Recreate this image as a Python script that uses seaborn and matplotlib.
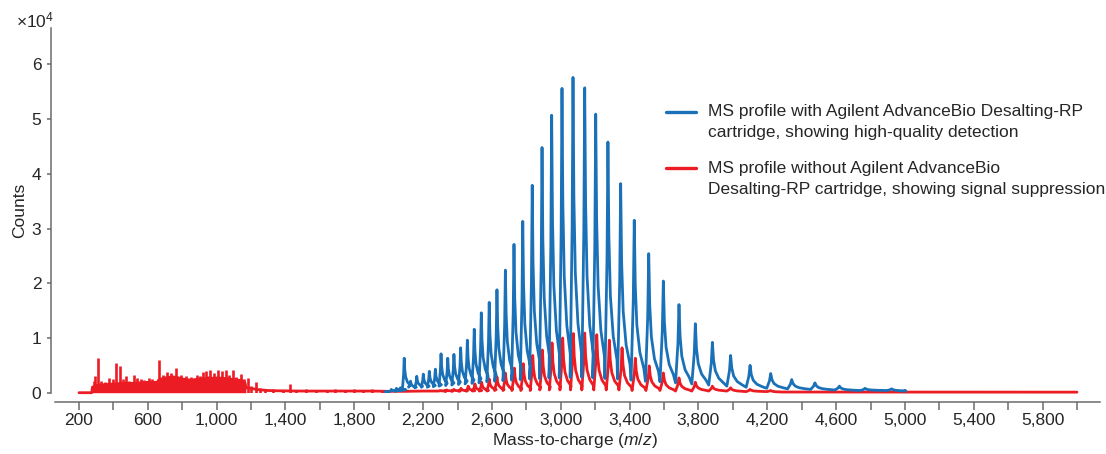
import numpy as np
import pandas as pd
import seaborn as sns
import matplotlib.pyplot as plt
from matplotlib.ticker import FixedLocator, FuncFormatter

# counts are in units of 1e4

# blue: with AdvanceBio Desalting-RP cartridge (charge-state envelope)
blue_mz = [2015, 2045, 2068, 2090, 2127, 2163, 2201, 2236, 2271, 2304, 2343, 2379,
           2418, 2457, 2497, 2538, 2584, 2629, 2678, 2728, 2779, 2834, 2891, 2947,
           3007, 3071, 3139, 3203, 3274, 3348, 3427, 3511, 3596, 3687, 3782, 3881,
           3987, 4100, 4220, 4342, 4477, 4619, 4768, 4923]
blue_top = [0.06, 0.08, 0.09, 0.63, 0.21, 0.30, 0.34, 0.39, 0.43, 0.71, 0.63, 0.70,
            0.82, 0.96, 1.16, 1.46, 1.65, 1.88, 2.24, 2.71, 3.13, 3.79, 4.48, 5.07,
            5.56, 5.76, 5.57, 5.09, 4.58, 3.82, 3.15, 2.54, 2.04, 1.61, 1.26, 0.92,
            0.68, 0.50, 0.35, 0.24, 0.18, 0.12, 0.08, 0.07]
blue_base = [0.02, 0.03, 0.04, 0.05, 0.10, 0.09, 0.10, 0.10, 0.11, 0.12, 0.13, 0.14,
             0.15, 0.16, 0.17, 0.18, 0.20, 0.21, 0.22, 0.23, 0.24, 0.25, 0.26, 0.27,
             0.27, 0.28, 0.28, 0.27, 0.26, 0.25, 0.23, 0.21, 0.20, 0.18, 0.16, 0.14,
             0.12, 0.10, 0.08, 0.07, 0.06, 0.05, 0.04, 0.04]
blue_start = (1978, 0.02)
blue_end = (4998, 0.03)

# red: without cartridge, charge-state envelope
red_mz = [2300, 2337, 2379, 2420, 2462, 2501, 2540, 2584, 2629, 2678, 2730, 2782,
          2837, 2893, 2949, 3011, 3073, 3139, 3209, 3282, 3356, 3433, 3514, 3596,
          3687, 3782, 3881, 3987, 4100, 4220]
red_top = [0.04, 0.05, 0.06, 0.08, 0.12, 0.16, 0.19, 0.25, 0.29, 0.36, 0.45, 0.53,
           0.68, 0.78, 0.91, 1.00, 1.08, 1.09, 1.06, 0.96, 0.82, 0.63, 0.49, 0.36,
           0.27, 0.19, 0.12, 0.09, 0.06, 0.04]
red_base = [0.03, 0.03, 0.03, 0.03, 0.03, 0.03, 0.03, 0.03, 0.04, 0.04, 0.04, 0.04,
            0.04, 0.05, 0.05, 0.05, 0.05, 0.05, 0.05, 0.05, 0.05, 0.04, 0.04, 0.04,
            0.03, 0.03, 0.03, 0.03, 0.02, 0.02]
red_end = (6000, 0.01)

# red: low m/z cluster (top of the dense region, then the flat baseline)
red_low_mz = [200, 274, 278, 300, 350, 400, 450, 500, 550, 600, 655, 665, 700, 740,
              770, 800, 850, 900, 950, 1000, 1050, 1100, 1150, 1165, 1170, 1200,
              1230, 1260, 1300, 1350, 1500, 1700, 1900, 2000, 2100, 2200, 2260]
red_low_val = [0.0, 0.0, 0.10, 0.13, 0.15, 0.16, 0.17, 0.17, 0.18, 0.19, 0.19, 0.24,
               0.27, 0.29, 0.28, 0.25, 0.23, 0.25, 0.26, 0.27, 0.26, 0.24, 0.22, 0.18,
               0.09, 0.08, 0.06, 0.05, 0.04, 0.035, 0.03, 0.03, 0.03, 0.025, 0.025,
               0.03, 0.03]
# red: single spikes in the low m/z region
spike_mz = [285, 291, 309, 330, 350, 372, 395, 413, 438, 455, 471, 490, 518, 540,
            560, 580, 605, 625, 663, 690, 710, 735, 762, 790, 820, 850, 884, 905,
            919, 936, 948, 961, 985, 1008, 1030, 1052, 1070, 1093, 1115, 1141, 1160,
            1180, 1200, 1227, 1250, 1280, 1330, 1385, 1424, 1460, 1520, 1580, 1640,
            1690, 1745, 1800, 1850, 1905, 1960]
spike_top = [0.21, 0.30, 0.63, 0.22, 0.20, 0.27, 0.25, 0.54, 0.48, 0.25, 0.30, 0.22,
             0.32, 0.27, 0.25, 0.24, 0.27, 0.25, 0.59, 0.33, 0.37, 0.36, 0.45, 0.33,
             0.30, 0.29, 0.33, 0.30, 0.38, 0.39, 0.30, 0.41, 0.36, 0.42, 0.39, 0.42,
             0.32, 0.42, 0.29, 0.34, 0.25, 0.26, 0.12, 0.20, 0.09, 0.07, 0.06, 0.05,
             0.15, 0.05, 0.06, 0.05, 0.05, 0.06, 0.05, 0.06, 0.05, 0.06, 0.05]

x_ticks = list(range(200, 6001, 200))
y_ticks = [0, 1, 2, 3, 4, 5, 6]

label_blue = "MS profile with Agilent AdvanceBio Desalting-RP\ncartridge, showing high-quality detection"
label_red = "MS profile without Agilent AdvanceBio\nDesalting-RP cartridge, showing signal suppression"

BLUE = "#1b71b8"
RED = "#ec1c24"
TXT = "#262626"
AX = "#6b6b6b"

# peak profile (m/z offset from apex, fraction of height above the local base)
shape_dx = [-16, -5, 0, 5, 13, 28, 48]
shape_f = [0.0, 0.5, 1.0, 0.6, 0.35, 0.18, 0.08]


def trace(mz, top, base, start, end, grow):
    xs, ys = [start[0]], [start[1]]
    for i in range(len(mz)):
        s = (mz[i] / 3000.0) ** grow
        nb = base[i + 1] if i + 1 < len(base) else end[1]
        for dx, f in zip(shape_dx, shape_f):
            b = base[i] if dx < 0 else nb
            xs.append(mz[i] + dx * s)
            ys.append(b + f * (top[i] - b))
    xs.append(end[0])
    ys.append(end[1])
    return xs, ys


bx, by = trace(blue_mz, blue_top, blue_base, blue_start, blue_end, 1.1)
rx, ry = trace(red_mz, red_top, red_base, (red_low_mz[-1], red_low_val[-1]), red_end, 1.1)
rx = red_low_mz + rx[1:]
ry = red_low_val + ry[1:]

df = pd.concat([
    pd.DataFrame({"mz": rx, "counts": np.array(ry) * 1e4, "series": label_red}),
    pd.DataFrame({"mz": bx, "counts": np.array(by) * 1e4, "series": label_blue}),
])

sns.set_style("white")
plt.rcParams['font.family'] = ['Liberation Sans', 'DejaVu Sans']
plt.rcParams['mathtext.fontset'] = 'custom'
plt.rcParams['mathtext.rm'] = 'Liberation Sans'
plt.rcParams['mathtext.it'] = 'Liberation Sans:italic'

fig = plt.figure(figsize=(11.06, 4.54), dpi=100)
ax = fig.add_axes([51 / 1106, 1 - 392.7 / 454, 1049 / 1106, 364.4 / 454])

# dense low m/z cluster
ax.fill_between(red_low_mz[:25], 0, np.array(red_low_val[:25]) * 1e4, color=RED, lw=0)
ax.vlines(spike_mz, 0, np.array(spike_top) * 1e4, color=RED, lw=1.9)

sns.lineplot(data=df, x="mz", y="counts", hue="series", sort=False, estimator=None,
             palette={label_blue: BLUE, label_red: RED}, hue_order=[label_red, label_blue],
             linewidth=2.0, ax=ax)
for ln in ax.lines:
    ln.set_clip_on(False)

ax.set_xlim(37.3, 6133.7)
ax.set_ylim(0, 6.658e4)

sns.despine(ax=ax)
ax.spines['bottom'].set_position(('outward', 6.7))
ax.spines['bottom'].set_bounds(60.5, 6133.7)
for sp in ['left', 'bottom']:
    ax.spines[sp].set_color(AX)
    ax.spines[sp].set_linewidth(1.1)

ax.xaxis.set_major_locator(FixedLocator(x_ticks))
ax.xaxis.set_major_formatter(FuncFormatter(
    lambda v, p: f"{int(v):,}" if int(v) % 400 == 200 else ""))
ax.yaxis.set_major_locator(FixedLocator([v * 1e4 for v in y_ticks]))
ax.yaxis.set_major_formatter(FuncFormatter(lambda v, p: f"{int(round(v / 1e4))}"))
ax.tick_params(axis='x', length=5.8, width=1.1, color=AX, labelsize=12.5,
               labelcolor=TXT, pad=2, bottom=True)
ax.tick_params(axis='y', length=2.9, width=1.1, color=AX, labelsize=12.5,
               labelcolor=TXT, pad=4, left=True)

ax.set_xlabel("Mass-to-charge ($m/z$)", fontsize=12.5, color=TXT, labelpad=2)
ax.set_ylabel("Counts", fontsize=12.5, color=TXT, labelpad=3)
fig.text(16 / 1106, 1 - 20 / 454, "×10$^{4}$", fontsize=12.5, color=TXT, va='center')

h, l = ax.get_legend_handles_labels()
leg = ax.legend(h[::-1], l[::-1], loc='upper left', bbox_to_anchor=(0.580, 0.810),
                frameon=False, fontsize=12.5, labelcolor=TXT, handlelength=1.72,
                handletextpad=0.7, labelspacing=1.18, borderaxespad=0)
for t in leg.get_texts():
    t.set_linespacing(1.5)
# keep each legend line level with the first text line
for ln in leg.get_lines():
    ln.set_linewidth(2.4)
    ln.set_ydata(np.asarray(ln.get_ydata()) + 7.5)

fig.savefig("out.png", dpi=100)
